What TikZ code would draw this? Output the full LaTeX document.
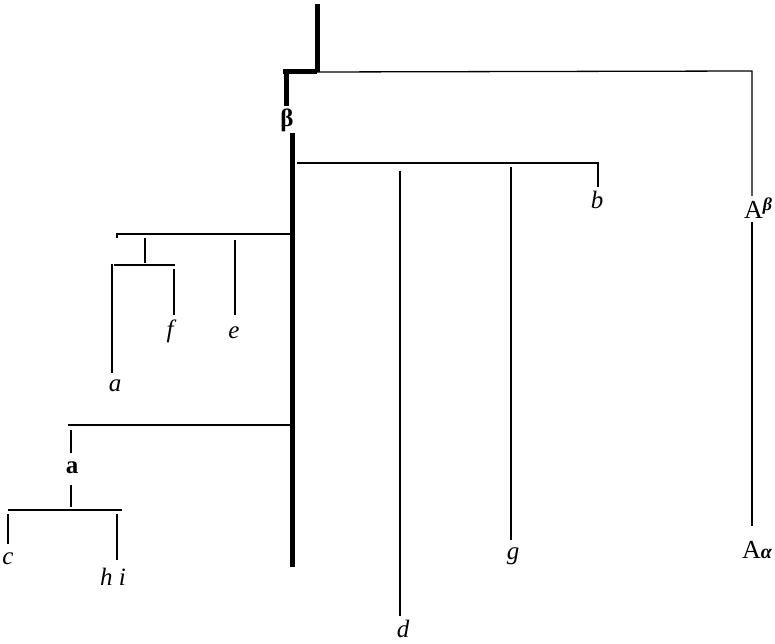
\documentclass[tikz,border=0pt]{standalone}
\usepackage{fontspec}
\setmainfont{Liberation Serif}
\begin{document}
\begin{tikzpicture}[x=1pt,y=-1pt,
  thin/.style={line width=1.3pt,black},
  thick/.style={line width=5pt,black},
  lab/.style={font=\fontsize{25}{28}\selectfont\itshape,inner sep=0pt},
  blab/.style={font=\fontsize{25}{28}\selectfont\bfseries,inner sep=0pt},
  rlab/.style={font=\fontsize{26}{28}\selectfont,inner sep=0pt}]
\useasboundingbox (0,0) rectangle (775,644);
% top stem
\coordinate (top) at (317,4);
\coordinate (knee) at (317,72);
\coordinate (kneeL) at (283,72);
\coordinate (bstart) at (286,72);
\coordinate (bend) at (286,106);
\node[blab] (beta) at (287,120) {β};
\draw[thick] (top) -- (knee);
\draw[thick] (kneeL) -- (knee);
\draw[thick] (bstart) -- (bend);
% right branch A
\coordinate (rtop) at (752,71);
\coordinate (rb1) at (752,196);
\node[rlab] (Ab) at (758,208) {A\raisebox{0.7ex}{\fontsize{18}{20}\selectfont\bfseries\itshape β}};
\coordinate (rb2) at (752,222);
\coordinate (rb3) at (752,526);
\node[rlab] (Aa) at (757,550) {A{\fontsize{20}{22}\selectfont\bfseries\itshape α}};
\draw[thin] (knee) -- (rtop) -- (rb1);
\draw[thin] (rb2) -- (rb3);
% main trunk
\coordinate (tr1) at (292,133);
\coordinate (tr2) at (292,567);
\draw[thick] (tr1) -- (tr2);
% b, d, g branch
\coordinate (h1L) at (297,163);
\coordinate (h1R) at (598,163);
\coordinate (bb) at (598,187);
\node[lab] (b) at (597,200) {b};
\draw[thin] (h1L) -- (h1R) -- (bb);
\coordinate (dt) at (400,171);
\coordinate (db) at (400,616);
\node[lab] (d) at (403,629) {d};
\draw[thin] (dt) -- (db);
\coordinate (gt) at (511,167);
\coordinate (gb) at (511,540);
\node[lab] (g) at (513,556) {g};
\draw[thin] (gt) -- (gb);
% a f e branch
\coordinate (h2R) at (290,234);
\coordinate (h2L) at (117,234);
\coordinate (h2s) at (145,238);
\coordinate (h2e) at (145,263);
\draw[thin] (h2R) -- (h2L) -- (117,238);
\draw[thin] (h2s) -- (h2e);
\coordinate (h3L) at (114,265);
\coordinate (h3R) at (175,265);
\draw[thin] (h3L) -- (h3R);
\coordinate (at) at (112,264);
\coordinate (ab) at (112,373);
\node[lab] (a) at (115,386) {a};
\draw[thin] (at) -- (ab);
\coordinate (ft) at (174,269);
\coordinate (fb) at (174,315);
\node[lab] (f) at (170,331) {f};
\draw[thin] (ft) -- (fb);
\coordinate (et) at (235,240);
\coordinate (eb) at (235,315);
\node[lab] (e) at (234,333) {e};
\draw[thin] (et) -- (eb);
% lower branch
\coordinate (h4R) at (290,425);
\coordinate (h4L) at (68,425);
\draw[thin] (h4R) -- (h4L);
\coordinate (a2t) at (71,430);
\coordinate (a2b) at (71,453);
\draw[thin] (a2t) -- (a2b);
\node[blab] (fa) at (72,468) {a};
\coordinate (a3t) at (71,485);
\coordinate (a3b) at (71,507);
\draw[line width=2pt] (a3t) -- (a3b);
\coordinate (h5L) at (8,510);
\coordinate (h5R) at (122,510);
\draw[thin] (h5L) -- (h5R);
\coordinate (ct) at (8,514);
\coordinate (cb) at (8,544);
\node[lab] (c) at (8,559) {c};
\draw[thin] (ct) -- (cb);
\coordinate (hit) at (117,514);
\coordinate (hib) at (117,560);
\node[lab] (hi) at (113,577) {h i};
\draw[thin] (hit) -- (hib);
\end{tikzpicture}
\end{document}
